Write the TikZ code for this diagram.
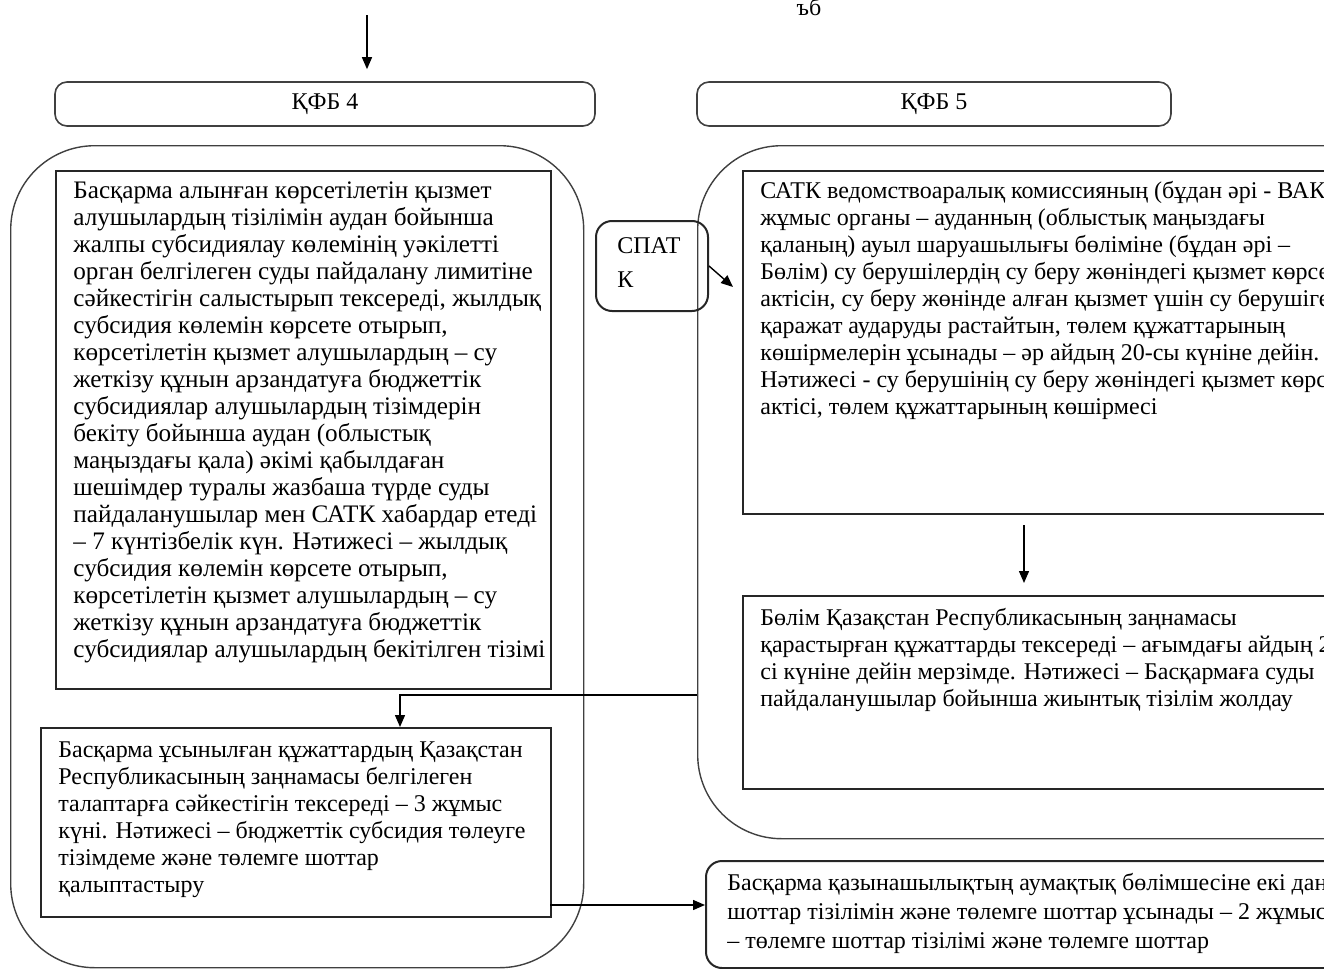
\documentclass[tikz,border=0pt]{standalone}
\usepackage{fontspec}
\setmainfont{Liberation Serif}
\usetikzlibrary{arrows.meta}

\tikzset{
  lane/.style={draw=black!75, line width=0.7pt, rounded corners=42pt, anchor=north west, inner sep=0pt},
  frame/.style={draw=black!85, line width=1pt, anchor=north west, inner sep=0pt},
  hdr/.style={draw=black!75, line width=0.8pt, rounded corners=6pt, minimum height=22pt, inner sep=0pt},
  txt/.style={anchor=north west, align=left, inner sep=0pt, font=\fontsize{12}{13.5}\selectfont},
  arr/.style={draw=black, line width=0.7pt, -{Triangle[length=6pt, width=5pt]}}
}

\begin{document}
\begin{tikzpicture}[x=0.5pt, y=-0.5pt]
  \useasboundingbox (0,0) rectangle (1324,969);
  \clip (0,0) rectangle (1324,969);

  % swimlanes
  \node[lane, minimum width=286.5pt, minimum height=411pt] (laneL) at (10,145) {};
  \node[lane, minimum width=376.5pt, minimum height=346.5pt] (laneR) at (697,145) {};

  % headers
  \node[hdr, minimum width=270pt] (kfb4) at (325,104) {\fontsize{12}{13.5}\selectfont ҚФБ 4};
  \node[hdr, minimum width=237pt] (kfb5) at (934,104) {\fontsize{12}{13.5}\selectfont ҚФБ 5};
  \node[anchor=base, inner sep=0pt, font=\fontsize{12}{13.5}\selectfont] (frag) at (809,16) {ъб};

  % steps
  \node[frame, minimum width=247.5pt, minimum height=259pt] (box1) at (55,170) {};
  \node[txt, font=\fontsize{12.6}{13.5}\selectfont] (t1) at (73,181) {Басқарма алынған көрсетілетін қызмет\\
    алушылардың тізілімін аудан бойынша\\
    жалпы субсидиялау көлемінің уәкілетті\\
    орган белгілеген суды пайдалану лимитіне\\
    сәйкестігін салыстырып тексереді, жылдық\\
    субсидия көлемін көрсете отырып,\\
    көрсетілетін қызмет алушылардың – су\\
    жеткізу құнын арзандатуға бюджеттік\\
    субсидиялар алушылардың тізімдерін\\
    бекіту бойынша аудан (облыстық\\
    маңыздағы қала) әкімі қабылдаған\\
    шешімдер туралы жазбаша түрде суды\\
    пайдаланушылар мен САТК хабардар етеді\\
    – 7 күнтізбелік күн. Нәтижесі – жылдық\\
    субсидия көлемін көрсете отырып,\\
    көрсетілетін қызмет алушылардың – су\\
    жеткізу құнын арзандатуға бюджеттік\\
    субсидиялар алушылардың бекітілген тізімі};

  \node[frame, minimum width=255pt, minimum height=94.5pt] (box2) at (40,727) {};
  \node[txt] (t2) at (58,741) {Басқарма ұсынылған құжаттардың Қазақстан\\
    Республикасының заңнамасы белгілеген\\
    талаптарға сәйкестігін тексереді – 3 жұмыс\\
    күні. Нәтижесі – бюджеттік субсидия төлеуге\\
    тізімдеме және төлемге шоттар\\
    қалыптастыру};

  \node[frame, rounded corners=8pt, minimum width=56pt, minimum height=45pt] (spatk) at (595,220) {};
  \node[txt, font=\fontsize{12}{17}\selectfont] (spatkt) at (617,237) {СПАТ\\К};

  \node[frame, minimum width=329pt, minimum height=171.5pt] (box3) at (742,170) {};
  \node[txt] (t3) at (760,181) {САТК ведомствоаралық комиссияның (бұдан әрі - ВАК)\\
    жұмыс органы – ауданның (облыстық маңыздағы\\
    қаланың) ауыл шаруашылығы бөліміне (бұдан әрі –\\
    Бөлім) су берушілердің су беру жөніндегі қызмет көрсетілген\\
    актісін, су беру жөнінде алған қызмет үшін су берушіге\\
    қаражат аударуды растайтын, төлем құжаттарының\\
    көшірмелерін ұсынады – әр айдың 20-сы күніне дейін.\\
    Нәтижесі - су берушінің су беру жөніндегі қызмет көрсетілген\\
    актісі, төлем құжаттарының көшірмесі};

  \node[frame, minimum width=329pt, minimum height=96.5pt] (box4) at (742,595) {};
  \node[txt] (t4) at (760,608) {Бөлім Қазақстан Республикасының заңнамасы\\
    қарастырған құжаттарды тексереді – ағымдағы айдың 25-\\
    сі күніне дейін мерзімде. Нәтижесі – Басқармаға суды\\
    пайдаланушылар бойынша жиынтық тізілім жолдау};

  \node[frame, rounded corners=8pt, minimum width=347.5pt, minimum height=53.5pt] (box5) at (705,860) {};
  \node[txt, font=\fontsize{12}{14.5}\selectfont] (t5) at (727,873) {Басқарма қазынашылықтың аумақтық бөлімшесіне екі дана төлемге\\
    шоттар тізілімін және төлемге шоттар ұсынады – 2 жұмыс күні. Нәтижесі\\
    – төлемге шоттар тізілімі және төлемге шоттар};

  % connectors
  \coordinate (top) at (367,15);
  \coordinate (satkin) at (733,287);
  \coordinate (down5) at (1024,0);
  \coordinate (back) at (697,695);
  \coordinate (in2) at (400,727);
  \coordinate (out2) at (550,905);

  \draw[arr, shorten >=6pt] (top) -- (top |- kfb4.north);
  \draw[arr] (spatk.east) -- (satkin);
  \draw[arr, shorten <=5pt, shorten >=6pt] (box3.south -| down5) -- (box4.north -| down5);
  \draw[arr] (back) -| (in2);
  \draw[arr] (out2) -- (box5.west |- out2);
\end{tikzpicture}
\end{document}
